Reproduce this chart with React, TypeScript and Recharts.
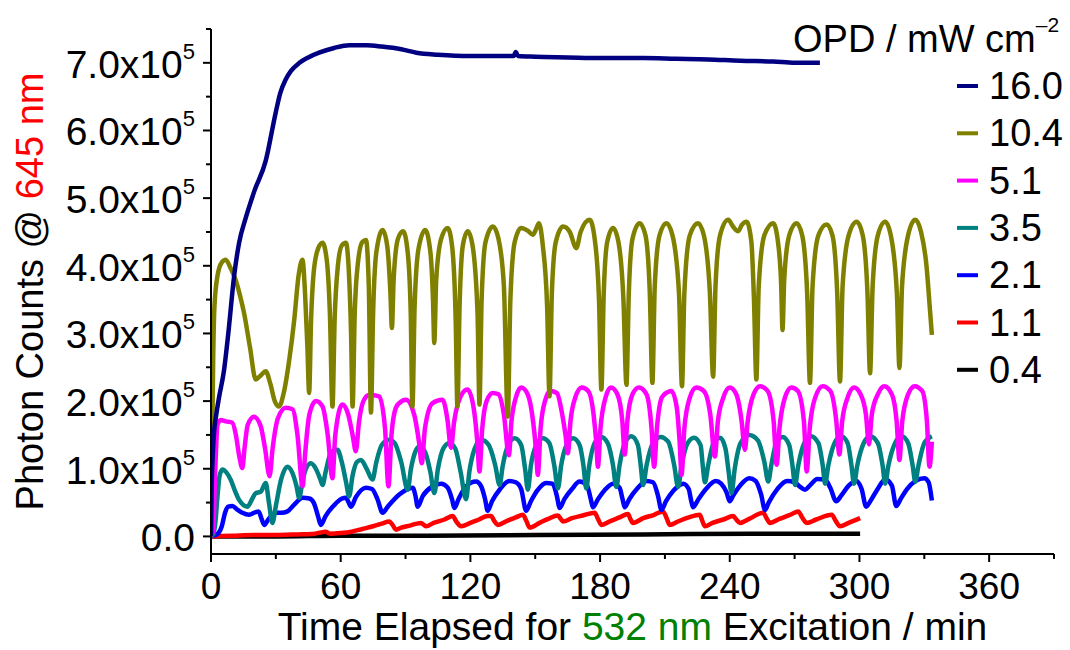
import React from "react";
import { LineChart, Line, XAxis, YAxis, Legend, Label } from "recharts";

// photon counts are kept in units of 1e5, time in minutes
const opd16: [number, number][] = [
  [0, 0], [0.3, 0.7], [0.8, 1.2], [1.5, 1.58], [2.2, 1.75], [3.7, 2.05], [6, 2.45], [8, 3.0],
  [10.7, 3.85], [13, 4.34], [16, 4.7], [20, 5.1], [25.3, 5.55], [29.9, 6.26], [32, 6.55],
  [34.5, 6.75], [37, 6.88], [40.9, 7.0], [45, 7.08], [50, 7.15], [57, 7.22], [64, 7.26],
  [72, 7.26], [79, 7.24], [88, 7.2], [95, 7.15], [105, 7.12], [120, 7.1], [135, 7.1],
  [140, 7.1], [141, 7.16], [142, 7.1], [150, 7.09], [165, 7.08], [180, 7.07], [200, 7.07],
  [215, 7.06], [230, 7.05], [245, 7.03], [260, 7.02], [270, 7.0], [281.7, 7.0],
];

const opd104: [number, number][] = [
  [0, 0], [0.5, 1.2], [1, 2.6], [1.6, 3.4], [3, 3.85], [5, 4.05], [6.8, 4.09], [9, 3.97],
  [11.4, 3.79], [13.5, 3.55], [15.3, 3.3], [18, 2.8], [20.7, 2.32], [23, 2.38], [25.3, 2.44],
  [27.5, 2.25], [29.5, 2.0], [31.5, 1.92], [33.5, 2.1], [36.2, 2.61], [38.5, 3.2], [40.5, 3.85],
  [42.3, 4.09], [43.5, 3.6], [44.6, 2.8], [45.4, 2.12], [46.3, 3.2], [47.5, 3.9], [49.5, 4.25],
  [51.6, 4.34], [53.5, 4.1], [55, 3.3], [56.2, 1.92], [57.2, 3.2], [58.7, 4.0], [60.5, 4.3],
  [62.4, 4.34], [63.8, 3.9], [64.8, 3.0], [65.5, 1.92], [66.5, 3.3], [68, 4.05], [70, 4.35],
  [71.7, 4.38], [73, 3.7], [74, 1.83], [75, 3.3], [76.5, 4.2], [79.4, 4.53], [81.5, 4.3],
  [83, 3.6], [83.7, 3.08], [84.5, 3.8], [86.5, 4.4], [88.9, 4.51], [91, 4.2], [92.4, 3.3],
  [93.2, 1.92], [94.2, 3.4], [96, 4.25], [99.1, 4.53], [101.5, 4.2], [102.7, 3.5], [103.3, 2.86],
  [104.2, 3.8], [106.5, 4.4], [109.5, 4.56], [111.5, 4.3], [113.2, 3.2], [114, 1.92], [115, 3.4],
  [116.5, 4.3], [118.8, 4.51], [121, 4.3], [123.3, 3.3], [124.2, 1.95], [125.2, 3.5], [127, 4.35],
  [130.4, 4.58], [133, 4.4], [135.5, 3.7], [137.3, 1.77], [138.5, 3.5], [140.5, 4.35],
  [143.5, 4.56], [146.5, 4.52], [148.9, 4.46], [150.5, 4.55], [151.7, 4.63], [153.5, 4.3],
  [155.5, 3.4], [156.6, 2.07], [157.7, 3.6], [159.5, 4.35], [162.9, 4.58], [166, 4.5],
  [169, 4.26], [171, 4.5], [175.2, 4.68], [177.5, 4.4], [179.5, 3.5], [180.6, 2.17],
  [181.7, 3.6], [183.3, 4.35], [186, 4.56], [188.5, 4.35], [190.8, 3.5], [192.2, 2.24],
  [193.3, 3.6], [195, 4.4], [198.3, 4.63], [201, 4.45], [203, 3.6], [204.2, 2.27], [205.3, 3.7],
  [207.5, 4.45], [210.7, 4.63], [213.5, 4.45], [216.5, 3.6], [217.9, 2.22], [219, 3.6],
  [221.5, 4.45], [225.3, 4.63], [228, 4.45], [230.8, 3.6], [232.3, 2.36], [233.4, 3.7],
  [235.5, 4.45], [239.3, 4.68], [241.5, 4.58], [243.9, 4.51], [245.5, 4.6], [247.8, 4.65],
  [250, 4.35], [251.2, 3.5], [252.3, 2.32], [253.4, 3.7], [256, 4.45], [260.1, 4.63],
  [262.5, 4.3], [263.8, 3.7], [264.4, 3.05], [265.2, 3.8], [267.5, 4.45], [270.9, 4.63],
  [273.5, 4.45], [275.8, 3.6], [277.1, 2.27], [278.3, 3.7], [281, 4.45], [284.8, 4.61],
  [287.5, 4.45], [289.7, 3.6], [291, 2.29], [292.2, 3.7], [295, 4.45], [298.7, 4.65],
  [301.5, 4.45], [303.7, 3.6], [304.9, 2.41], [306.1, 3.7], [308.5, 4.45], [311.9, 4.65],
  [314.5, 4.45], [317.3, 3.6], [318.5, 2.49], [319.7, 3.7], [322.5, 4.45], [325.8, 4.68],
  [328.5, 4.5], [331, 4.0], [332.5, 3.4], [333.5, 2.98],
];

const opd51: [number, number][] = [
  [0, 0], [1, 0.1], [2, 1.0], [3, 1.65], [4.5, 1.72], [7, 1.7], [9.9, 1.68], [11.5, 1.5],
  [13, 1.2], [14.5, 1.01], [15.5, 1.3], [17, 1.65], [19.9, 1.77], [23, 1.63], [25, 1.3],
  [27.1, 0.89], [28.5, 1.3], [31, 1.75], [34.6, 1.9], [37.7, 1.88], [40, 1.5], [42.4, 0.74],
  [43.5, 1.2], [45.5, 1.8], [48.5, 2.0], [51.6, 1.92], [54, 1.5], [56.2, 0.86], [57.5, 1.5],
  [60.8, 1.95], [63.5, 1.8], [65.5, 1.5], [67, 1.26], [68.5, 1.7], [70.5, 2.0], [73.1, 2.09],
  [77.8, 2.07], [80.5, 1.6], [82.1, 0.74], [83.5, 1.5], [85.5, 1.9], [87.1, 1.97], [90.2, 2.02],
  [94, 1.8], [96.2, 1.4], [97.5, 1.08], [99, 1.6], [102.5, 1.97], [107.1, 2.02], [109.5, 1.7],
  [111, 1.31], [112.5, 1.7], [116.4, 2.12], [118.7, 2.17], [121.5, 1.9], [123.2, 1.4],
  [124.2, 0.96], [125.5, 1.6], [127.5, 2.0], [130.4, 2.12], [133, 2.1], [135.5, 1.8],
  [137.8, 1.2], [139, 1.7], [141, 2.05], [143.5, 2.2], [146.5, 2.1], [149, 1.7], [150.3, 1.3],
  [151.2, 0.91], [152.5, 1.6], [154.5, 2.0], [157, 2.15], [160, 2.12], [162.5, 1.8], [164, 1.5],
  [165.1, 1.23], [166.3, 1.7], [168.5, 2.05], [171.5, 2.2], [174.5, 2.15], [177, 1.8],
  [178.2, 1.4], [179, 1.03], [180.2, 1.6], [182.5, 2.05], [185, 2.2], [188, 2.1], [190.3, 1.7],
  [191.4, 1.21], [192.6, 1.7], [195, 2.1], [198, 2.2], [201.5, 2.1], [203.8, 1.6], [205, 1.03],
  [206.3, 1.6], [208.5, 2.05], [211, 2.13], [213, 2.15], [215.5, 1.9], [216.8, 1.4],
  [217.7, 0.91], [219, 1.6], [221.5, 2.05], [224.5, 2.2], [228, 2.15], [231, 1.8], [233.1, 1.18],
  [234.5, 1.7], [237, 2.05], [240, 2.2], [243, 2.1], [245.5, 1.7], [247, 1.28], [248.3, 1.7],
  [251, 2.1], [254, 2.22], [257.5, 2.15], [260.3, 1.7], [261.7, 1.06], [263, 1.6], [265.5, 2.05],
  [268.5, 2.2], [271.5, 2.15], [274.3, 1.7], [275.6, 0.96], [277, 1.6], [279.5, 2.05],
  [283, 2.22], [286.5, 2.15], [289.3, 1.7], [290.7, 1.21], [292, 1.7], [294.5, 2.05],
  [297.5, 2.2], [300.5, 2.1], [303, 1.8], [304.4, 1.36], [305.7, 1.8], [308.5, 2.1],
  [311.5, 2.22], [315, 2.1], [317.2, 1.7], [318.5, 1.13], [319.8, 1.7], [322.5, 2.1],
  [325.5, 2.22], [329, 2.15], [331.2, 1.7], [332.4, 1.03], [333.5, 1.4],
];

const opd35: [number, number][] = [
  [0, 0], [1, 0.03], [2, 0.2], [3, 0.59], [4, 0.9], [5.3, 0.99], [7, 0.95], [9.1, 0.84],
  [11, 0.68], [13, 0.54], [16.8, 0.44], [19, 0.55], [20.7, 0.64], [23, 0.66], [25.3, 0.79],
  [26.8, 0.5], [28.4, 0.2], [30, 0.45], [32.5, 0.85], [35.4, 1.03], [37.5, 0.95], [39.5, 0.75],
  [40.8, 0.57], [42.5, 0.85], [46.2, 1.08], [48.5, 1.0], [50.5, 0.85], [51.6, 0.76], [53, 0.95],
  [55, 1.2], [56.2, 1.26], [58.5, 1.28], [60.5, 1.1], [62.5, 0.8], [63.9, 0.59], [65.5, 0.9],
  [67.5, 1.1], [69.4, 1.13], [72, 1.0], [74.7, 0.84], [76.5, 1.1], [79, 1.35], [82.5, 1.43],
  [85, 1.38], [88, 1.1], [91, 0.69], [92.5, 1.0], [94.5, 1.25], [96.4, 1.33], [99, 1.25],
  [101.5, 0.95], [103.3, 0.64], [105, 1.0], [107.5, 1.3], [110.3, 1.38], [113, 1.3],
  [115.5, 0.95], [118, 0.55], [119.5, 0.95], [122, 1.3], [125, 1.43], [128.5, 1.35],
  [131.5, 1.05], [133.5, 0.76], [135, 1.05], [137.5, 1.35], [140.5, 1.45], [143.5, 1.35],
  [145.3, 1.0], [146.6, 0.69], [148, 1.05], [150.5, 1.35], [153.5, 1.45], [156.5, 1.38],
  [158.8, 1.05], [160.5, 0.71], [162, 1.05], [164.5, 1.35], [167.5, 1.45], [170.5, 1.35],
  [172.3, 1.05], [173.6, 0.71], [175, 1.05], [177.5, 1.38], [180.5, 1.47], [183.5, 1.38],
  [186, 1.05], [187.5, 0.73], [189, 1.05], [191.5, 1.38], [194.5, 1.48], [197.5, 1.35],
  [198.8, 1.05], [199.9, 0.76], [201.5, 1.05], [204.5, 1.38], [208, 1.47], [211.5, 1.4],
  [214.3, 1.05], [216.1, 0.73], [217.7, 1.05], [220.5, 1.38], [223.5, 1.46], [226.5, 1.35],
  [227.5, 1.05], [228.5, 0.8], [230, 1.05], [232.5, 1.38], [235.5, 1.46], [238, 1.3],
  [239.5, 0.95], [240.8, 0.64], [242.3, 1.0], [245, 1.38], [249, 1.5], [253, 1.42], [256, 1.1],
  [257.8, 0.81], [259.2, 1.05], [261.5, 1.38], [264.5, 1.47], [267.5, 1.35], [269, 1.05],
  [270.2, 0.76], [271.7, 1.05], [274.5, 1.38], [277.5, 1.48], [281, 1.38], [283, 1.05],
  [284.1, 0.78], [285.6, 1.05], [288.5, 1.38], [291.5, 1.48], [294.5, 1.38], [296.3, 1.05],
  [297.5, 0.78], [299, 1.05], [302, 1.38], [305, 1.48], [308.5, 1.38], [310.7, 1.05],
  [311.9, 0.78], [313.4, 1.05], [316.5, 1.38], [319.5, 1.48], [322.5, 1.38], [324.6, 1.05],
  [325.8, 0.81], [327.3, 1.05], [330, 1.38], [333.5, 1.48],
];

const opd21: [number, number][] = [
  [0, 0], [2, 0.02], [3.5, 0.05], [5, 0.15], [6.5, 0.35], [8, 0.44], [9.9, 0.45], [12, 0.4],
  [14.5, 0.35], [17.6, 0.32], [20.7, 0.36], [22, 0.37], [23.5, 0.25], [24.6, 0.17], [26.5, 0.25],
  [30, 0.35], [32.5, 0.35], [35.4, 0.37], [38.5, 0.47], [42.4, 0.57], [45.5, 0.56], [47.5, 0.5],
  [49.5, 0.3], [50.8, 0.17], [53, 0.3], [57.8, 0.49], [60.5, 0.56], [62.4, 0.57], [63.7, 0.5],
  [64.8, 0.44], [67, 0.58], [71.7, 0.72], [74.5, 0.7], [77, 0.55], [79.4, 0.35], [82, 0.45],
  [87.1, 0.62], [91, 0.7], [93.3, 0.72], [94.6, 0.6], [95.6, 0.44], [98, 0.6], [102.5, 0.74],
  [106.5, 0.78], [109.5, 0.72], [111.5, 0.55], [112.6, 0.42], [114.5, 0.55], [118, 0.74],
  [122.6, 0.81], [125, 0.74], [126.8, 0.55], [128, 0.38], [130, 0.52], [133.5, 0.69],
  [138, 0.82], [141, 0.8], [143.5, 0.7], [145.8, 0.38], [148, 0.52], [151, 0.68], [155, 0.79],
  [158, 0.78], [160, 0.6], [161.3, 0.42], [163.5, 0.55], [167, 0.7], [170.5, 0.81], [174, 0.75],
  [175.7, 0.55], [176.7, 0.43], [179, 0.55], [182, 0.68], [186, 0.78], [189, 0.72], [190.4, 0.55],
  [191.4, 0.43], [193.5, 0.55], [197, 0.7], [201.5, 0.82], [204.5, 0.8], [206.8, 0.6],
  [208.4, 0.39], [210.5, 0.52], [214, 0.68], [218.5, 0.78], [221, 0.7], [222, 0.55], [223, 0.43],
  [225.5, 0.55], [229, 0.7], [233.5, 0.82], [236, 0.78], [238.5, 0.65], [240, 0.52],
  [241.5, 0.6], [245, 0.76], [249, 0.86], [252, 0.82], [254.5, 0.62], [256.3, 0.39], [258, 0.5],
  [262, 0.7], [266.5, 0.82], [270, 0.8], [272.3, 0.74], [274.8, 0.69], [277, 0.75], [280.5, 0.85],
  [284, 0.84], [286.5, 0.72], [289.2, 0.52], [291.5, 0.6], [295, 0.75], [298.5, 0.82],
  [301, 0.7], [303.1, 0.44], [305, 0.52], [308, 0.68], [312, 0.84], [315, 0.75], [317, 0.45],
  [319, 0.55], [322, 0.7], [326, 0.82], [330, 0.86], [332, 0.8], [333.5, 0.53],
];

const opd11: [number, number][] = [
  [0, 0], [10, 0.01], [20, 0.02], [30, 0.02], [40, 0.03], [48, 0.04], [51, 0.06], [53, 0.07],
  [55, 0.04], [60, 0.05], [65, 0.07], [70, 0.11], [75, 0.15], [79, 0.19], [82.5, 0.22],
  [84, 0.17], [85.6, 0.1], [88, 0.13], [92, 0.16], [97.2, 0.2], [98.5, 0.17], [99.5, 0.15],
  [103, 0.2], [108, 0.25], [111.8, 0.3], [113.5, 0.22], [115.7, 0.15], [120, 0.2], [124, 0.25],
  [128, 0.3], [129.6, 0.3], [131, 0.23], [132.7, 0.17], [137, 0.23], [141, 0.28], [144.3, 0.32],
  [146, 0.22], [147.4, 0.13], [152, 0.2], [156, 0.26], [160.5, 0.31], [161.8, 0.26],
  [162.8, 0.22], [167, 0.27], [172, 0.31], [177.5, 0.35], [179, 0.26], [180.6, 0.17], [185, 0.23],
  [189, 0.28], [192.9, 0.33], [194, 0.26], [195.2, 0.2], [200, 0.27], [205, 0.32], [209.1, 0.37],
  [210.8, 0.27], [212.2, 0.17], [216, 0.22], [221, 0.28], [226.1, 0.32], [227.3, 0.23],
  [228.5, 0.15], [232, 0.2], [237, 0.25], [241.6, 0.3], [243, 0.25], [244.7, 0.2], [249, 0.26],
  [255.5, 0.35], [257, 0.27], [258.6, 0.2], [263, 0.26], [268, 0.32], [271.7, 0.37],
  [273.5, 0.28], [275.6, 0.2], [280, 0.25], [287.2, 0.32], [289, 0.23], [291, 0.15], [295, 0.2],
  [300.3, 0.27],
];

const opd04: [number, number][] = [
  [0, 0], [30, 0.0], [60, 0.01], [100, 0.01], [150, 0.02], [200, 0.03], [250, 0.04], [300.3, 0.04],
];

const seriesNames = ["16.0", "10.4", "5.1", "3.5", "2.1", "1.1", "0.4"];
const seriesColors = ["#000080", "#808000", "#ff00ff", "#008080", "#0000ff", "#ff0000", "#000000"];
const seriesData = [opd16, opd104, opd51, opd35, opd21, opd11, opd04];

const xTicks = [0, 30, 60, 90, 120, 150, 180, 210, 240, 270, 300, 330, 360, 390];
const yTicks = [0, 0.5, 1, 1.5, 2, 2.5, 3, 3.5, 4, 4.5, 5, 5.5, 6, 6.5, 7, 7.5];

const FONT = "Arial, 'Liberation Sans', Helvetica, sans-serif";
const TICK_GAP = 8;

function XTick({ x, y, payload }: any) {
  const major = payload.value % 60 === 0;
  const axisY = y - TICK_GAP;
  return (
    <g>
      <line x1={x} x2={x} y1={axisY} y2={axisY + (major ? 8 : 5)} stroke="#000" strokeWidth={2} />
      {major && (
        <text x={x} y={axisY + 45} textAnchor="middle" fontSize={37} fontFamily={FONT} fill="#000">
          {payload.value}
        </text>
      )}
    </g>
  );
}

function YTick({ x, y, payload }: any) {
  const v = payload.value;
  const major = Number.isInteger(v);
  const axisX = x + TICK_GAP;
  return (
    <g>
      <line x1={axisX} x2={axisX - (major ? 8 : 5)} y1={y} y2={y} stroke="#000" strokeWidth={2} />
      {major && (
        <text x={axisX - 16} y={y + 15} textAnchor="end" fontSize={39} fontFamily={FONT} fill="#000">
          {v === 0 ? (
            "0.0"
          ) : (
            <>
              {v.toFixed(1)}x10
              <tspan fontSize={22} dy={-19}>5</tspan>
            </>
          )}
        </text>
      )}
    </g>
  );
}

function XTitle({ viewBox }: any) {
  const { x, y, width } = viewBox;
  return (
    <text x={x + width / 2} y={y + 86} textAnchor="middle" fontSize={39} fontFamily={FONT} fill="#000">
      Time Elapsed for <tspan fill="#008000">532 nm</tspan> Excitation / min
    </text>
  );
}

function YTitle({ viewBox }: any) {
  const { y, height } = viewBox;
  const cy = y + height / 2;
  return (
    <text
      transform={`translate(43, ${cy}) rotate(-90)`}
      textAnchor="middle"
      fontSize={38}
      fontFamily={FONT}
      fill="#000"
    >
      Photon Counts @ <tspan fill="#ff0000">645 nm</tspan>
    </text>
  );
}

function OpdLegend() {
  return (
    <svg width={290} height={400} style={{ display: "block" }}>
      <text x={13} y={52} fontSize={38} fontFamily={FONT} fill="#000">
        OPD / mW cm<tspan fontSize={21} dy={-20}>–2</tspan>
      </text>
      {seriesNames.map((name, i) => {
        const cy = 86 + i * 47.3;
        return (
          <g key={name}>
            <line x1={177} x2={198} y1={cy} y2={cy} stroke={seriesColors[i]} strokeWidth={4} />
            <text x={209} y={cy + 13} fontSize={38} fontFamily={FONT} fill="#000">
              {name}
            </text>
          </g>
        );
      })}
    </svg>
  );
}

export default function App() {
  const order = [6, 5, 4, 3, 2, 1, 0];
  return (
    <div style={{ position: "absolute", left: 0, top: 0, width: 1070, height: 650, background: "#fff" }}>
      <LineChart width={1070} height={650} margin={{ top: 29, right: 16, bottom: 0, left: 0 }} style={{ fontFamily: FONT }}>
        <XAxis
          type="number"
          dataKey="t"
          domain={[0, 390]}
          ticks={xTicks}
          interval={0}
          height={96}
          tickSize={TICK_GAP}
          tickMargin={0}
          tickLine={false}
          tick={<XTick />}
          axisLine={{ stroke: "#000", strokeWidth: 2 }}
          allowDataOverflow
        >
          <Label content={(p: any) => <XTitle {...p} />} />
        </XAxis>
        <YAxis
          type="number"
          dataKey="v"
          domain={[-0.26, 7.5]}
          ticks={yTicks}
          interval={0}
          width={211}
          tickSize={TICK_GAP}
          tickMargin={0}
          tickLine={false}
          tick={<YTick />}
          axisLine={{ stroke: "#000", strokeWidth: 2 }}
          allowDataOverflow
        >
          <Label content={(p: any) => <YTitle {...p} />} />
        </YAxis>
        <Legend
          layout="vertical"
          align="center"
          verticalAlign="middle"
          wrapperStyle={{ left: 780, top: 0, width: 290, height: 400 }}
          content={() => <OpdLegend />}
        />
        {order.map((i) => (
          <Line
            key={seriesNames[i]}
            name={seriesNames[i]}
            data={seriesData[i].map(([t, v]) => ({ t, v }))}
            dataKey="v"
            type="monotone"
            stroke={seriesColors[i]}
            strokeWidth={4.5}
            strokeLinejoin="round"
            dot={false}
            activeDot={false}
            isAnimationActive={false}
          />
        ))}
      </LineChart>
    </div>
  );
}
